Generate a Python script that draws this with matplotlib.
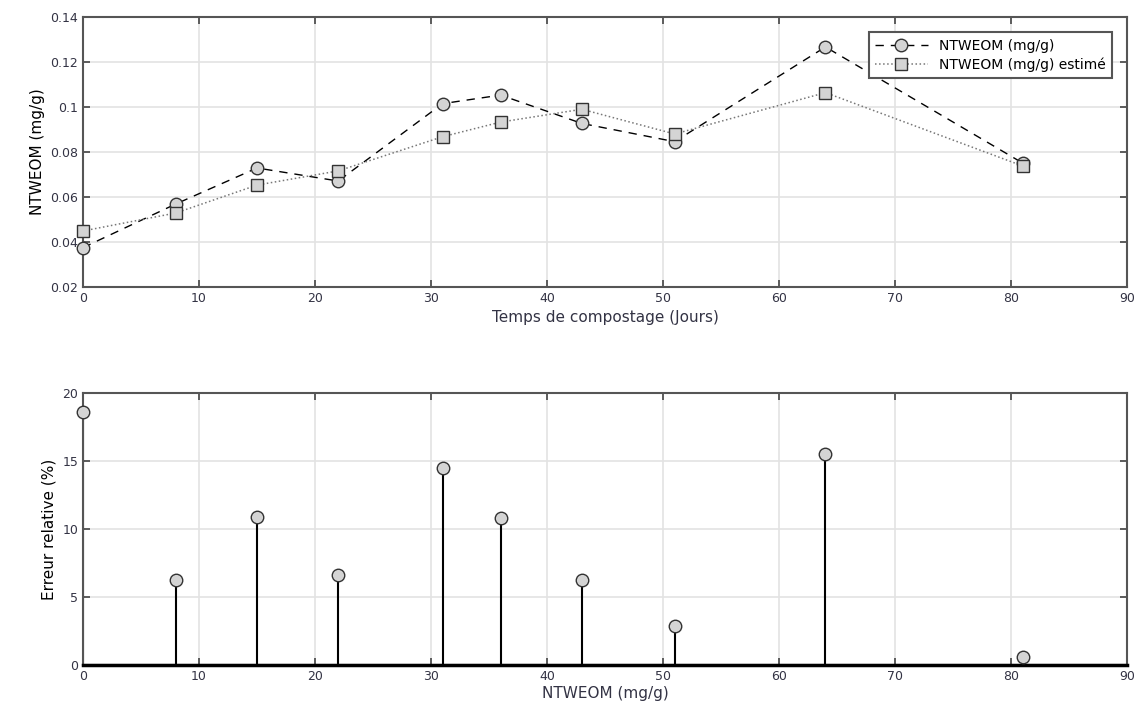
import numpy as np
import matplotlib
matplotlib.use("Agg")
import matplotlib.pyplot as plt
from matplotlib.ticker import FuncFormatter

# jours de compostage
jours = [0, 8, 15, 22, 31, 36, 43, 51, 64, 81]
# NTWEOM mesure et estime (mg/g)
ntweom = [0.0375, 0.0569, 0.0729, 0.0671, 0.1015, 0.1053, 0.0927, 0.0846, 0.1267, 0.0751]
ntweom_est = [0.0449, 0.0529, 0.0653, 0.0716, 0.0868, 0.0933, 0.0990, 0.0880, 0.1064, 0.0738]
# erreur relative (%)
erreur = [18.6, 6.25, 10.9, 6.6, 14.46, 10.8, 6.25, 2.87, 15.5, 0.57]

plt.rcParams['font.family'] = ['DejaVu Sans']

fig = plt.figure(figsize=(11.39, 7.24), dpi=100)
ax1 = fig.add_axes([0.0729, 0.6036, 0.9166, 0.3729])
ax2 = fig.add_axes([0.0729, 0.0815, 0.9166, 0.3757])

def style(ax):
    ax.grid(True, color='#e3e3e3', linewidth=1.2)
    ax.set_axisbelow(True)
    for s in ax.spines.values():
        s.set_color('#555555')
        s.set_linewidth(1.5)
    ax.tick_params(direction='in', top=True, right=True, length=5, width=1.2,
                   colors='#444444', labelsize=9, labelcolor='#333344')
    ax.xaxis.set_major_formatter(FuncFormatter(lambda v, p: '%g' % v))
    ax.yaxis.set_major_formatter(FuncFormatter(lambda v, p: '%g' % v))

ax1.plot(jours, ntweom, '--', color='black', linewidth=1.0, dashes=(6, 5),
         marker='o', markersize=9, markerfacecolor='#d4d4d4', markeredgecolor='#333333',
         label='NTWEOM (mg/g)', clip_on=False, zorder=3)
ax1.plot(jours, ntweom_est, ':', color='#777777', linewidth=1.1,
         marker='s', markersize=8, markerfacecolor='#d4d4d4', markeredgecolor='#333333',
         label='NTWEOM (mg/g) estimé', clip_on=False, zorder=3)
ax1.set_xlim(0, 90)
ax1.set_ylim(0.02, 0.14)
ax1.set_xticks(np.arange(0, 91, 10))
ax1.set_yticks([0.02, 0.04, 0.06, 0.08, 0.1, 0.12, 0.14])
style(ax1)
ax1.set_xlabel('Temps de compostage (Jours)', fontsize=11, color='#333344')
ax1.set_ylabel('NTWEOM (mg/g)', fontsize=11, color='black')
leg = ax1.legend(loc='upper right', fontsize=10, frameon=True, fancybox=False,
                 edgecolor='#555555', borderaxespad=1.1, handlelength=3.8,
                 borderpad=0.45, labelspacing=0.35, framealpha=1)
leg.get_frame().set_linewidth(1.5)

markerline, stemlines, baseline = ax2.stem(jours, erreur)
plt.setp(stemlines, color='black', linewidth=1.5)
plt.setp(markerline, marker='o', markersize=9, markerfacecolor='#d4d4d4',
         markeredgecolor='#333333', clip_on=False, zorder=4)
baseline.set_visible(False)
ax2.axhline(0, color='black', linewidth=2.5, zorder=3.5, clip_on=False)
ax2.set_xlim(0, 90)
ax2.set_ylim(0, 20)
ax2.set_xticks(np.arange(0, 91, 10))
ax2.set_yticks([0, 5, 10, 15, 20])
style(ax2)
ax2.set_xlabel('NTWEOM (mg/g)', fontsize=11, color='#333344', labelpad=2)
ax2.set_ylabel('Erreur relative (%)', fontsize=11, color='black')

fig.savefig('out.png', dpi=100)
